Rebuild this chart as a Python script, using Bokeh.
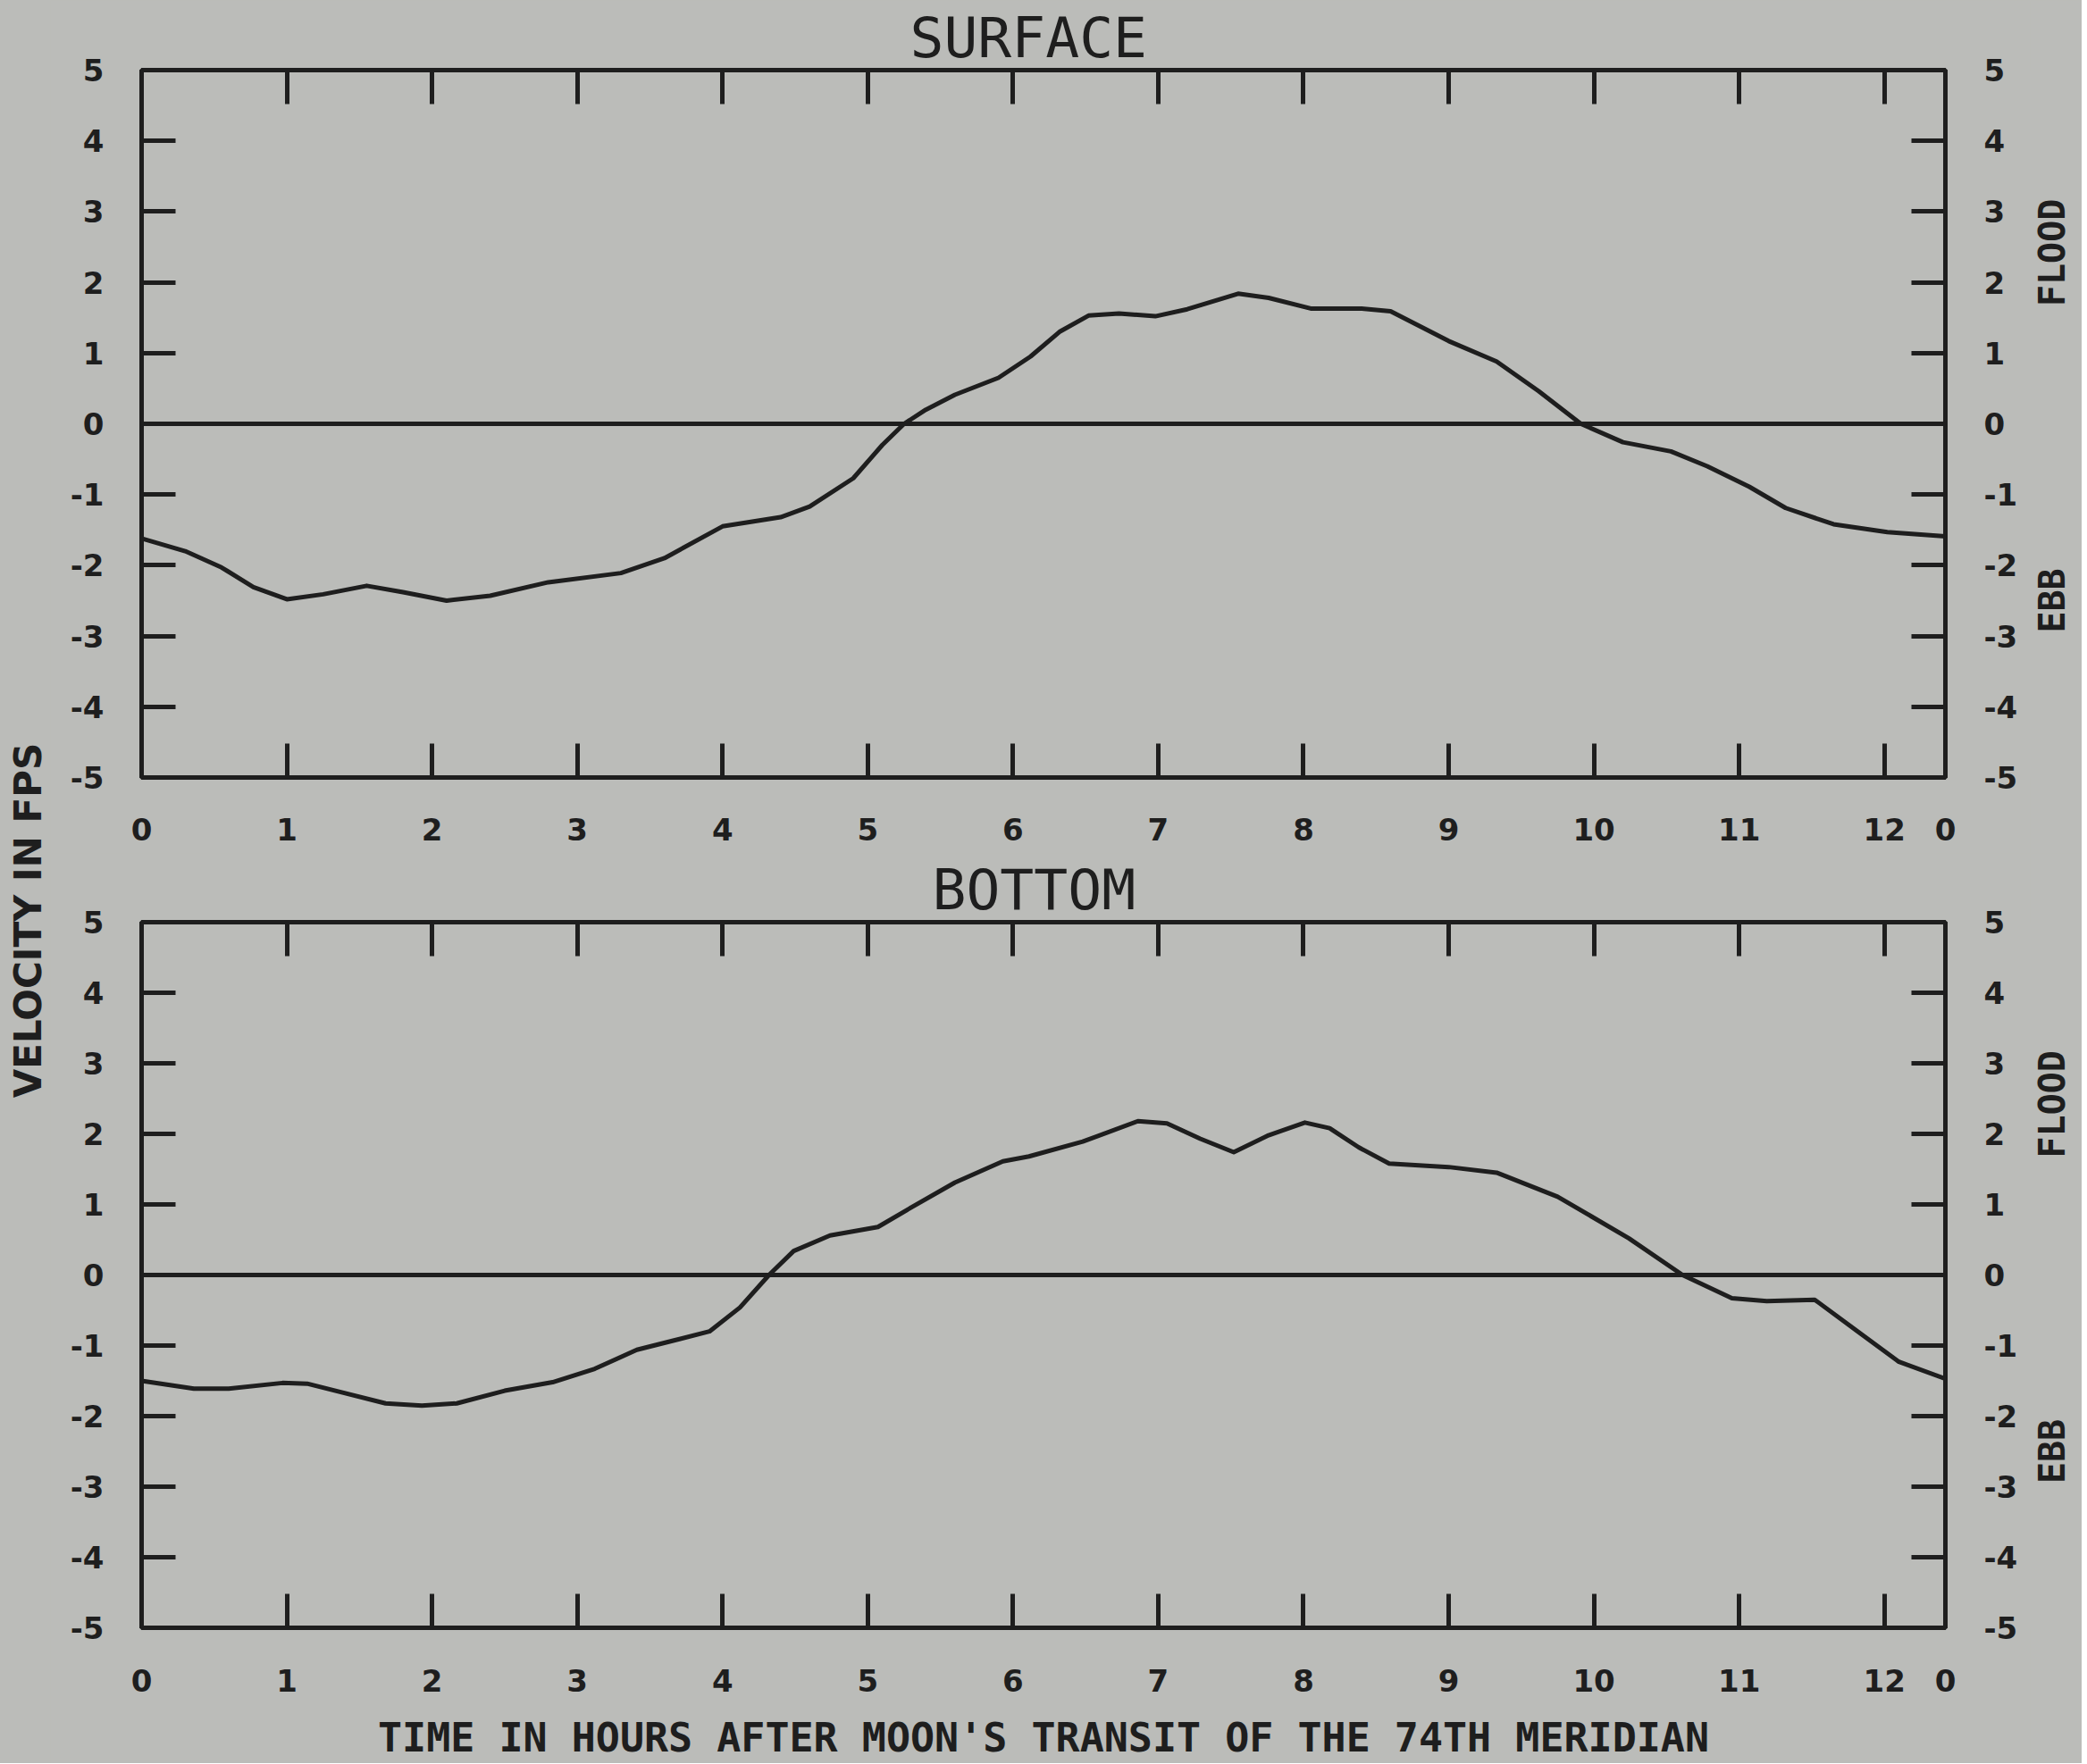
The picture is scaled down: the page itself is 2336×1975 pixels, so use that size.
import math
from bokeh.plotting import figure
from bokeh.models import (Range1d, LinearAxis, FixedTicker, CustomJSTickFormatter,
                          Span, ColumnDataSource)
from bokeh.layouts import row, column
from bokeh.embed import file_html
from bokeh.resources import INLINE
from bokeh.core.properties import value

# ---------------- data ----------------
surface_hours = [0.0, 0.3, 0.55, 0.77, 1.0, 1.25, 1.55, 1.8, 2.1, 2.4, 2.8, 3.3, 3.6,
                 4.0, 4.4, 4.6, 4.9, 5.1, 5.25, 5.4, 5.6, 5.9, 6.12, 6.32, 6.52, 6.73,
                 6.98, 7.2, 7.55, 7.76, 8.05, 8.4, 8.6, 9.0, 9.33, 9.62, 9.91, 10.2,
                 10.53, 10.78, 11.07, 11.32, 11.65, 12.02, 12.42]
surface_velocity = [-1.62, -1.8, -2.03, -2.31, -2.48, -2.41, -2.29, -2.38, -2.5, -2.43,
                    -2.24, -2.11, -1.9, -1.45, -1.32, -1.17, -0.77, -0.3, 0.0, 0.2, 0.41,
                    0.65, 0.95, 1.3, 1.53, 1.56, 1.52, 1.62, 1.84, 1.78, 1.63, 1.63, 1.59,
                    1.17, 0.88, 0.46, 0.0, -0.26, -0.39, -0.6, -0.89, -1.19, -1.42, -1.53,
                    -1.59]

bottom_hours = [0.0, 0.36, 0.6, 0.97, 1.14, 1.39, 1.68, 1.93, 2.17, 2.5, 2.83, 3.12, 3.41,
                3.66, 3.91, 4.12, 4.32, 4.49, 4.74, 5.07, 5.31, 5.6, 5.93, 6.11, 6.48,
                6.86, 7.06, 7.29, 7.52, 7.76, 8.01, 8.18, 8.38, 8.59, 9.0, 9.33, 9.75,
                10.24, 10.61, 10.95, 11.19, 11.52, 11.81, 12.1, 12.42]
bottom_velocity = [-1.5, -1.61, -1.61, -1.53, -1.54, -1.67, -1.82, -1.85, -1.82, -1.64,
                   -1.52, -1.33, -1.06, -0.93, -0.8, -0.46, 0.0, 0.34, 0.56, 0.68, 0.97,
                   1.31, 1.61, 1.68, 1.89, 2.18, 2.15, 1.93, 1.74, 1.98, 2.16, 2.08, 1.81,
                   1.58, 1.53, 1.45, 1.11, 0.52, 0.0, -0.33, -0.37, -0.35, -0.79, -1.23,
                   -1.47]

x_ticks = [0, 1, 2, 3, 4, 5, 6, 7, 8, 9, 10, 11, 12, 12.42]
x_tick_labels = ["0", "1", "2", "3", "4", "5", "6", "7", "8", "9", "10", "11", "12", "0"]
y_ticks = [-5, -4, -3, -2, -1, 0, 1, 2, 3, 4, 5]
y_tick_labels = ["-5", "-4", "-3", "-2", "-1", "0", "1", "2", "3", "4", "5"]
panel_titles = ["SURFACE", "BOTTOM"]
side_labels = ["FLOOD", "EBB"]
side_label_values = [2.42, -2.5]
x_axis_title = "TIME IN HOURS AFTER MOON'S TRANSIT OF THE 74TH MERIDIAN"
y_axis_title = "VELOCITY IN FPS"

# ---------------- styling ----------------
BG = "#bbbcb9"
INK = "#1e1e1e"
X_END = x_ticks[-1]
TICK_FONT = "DejaVu Sans"
TEXT_FONT = "DejaVu Sans Mono"
LW = 5

MAIN_W = 2216       # 102 + 2019 + 95
LEFT_W = 56
RIGHT_W = 58


def style_axis(ax, ticks, labels=None, show_labels=True, standoff=40):
    ax.ticker = FixedTicker(ticks=ticks)
    ax.axis_line_color = INK
    ax.axis_line_width = LW
    ax.major_tick_in = 38
    ax.major_tick_out = 0
    ax.major_tick_line_color = INK
    ax.major_tick_line_width = LW
    ax.minor_tick_line_color = None
    ax.major_label_standoff = standoff
    if labels is not None:
        ax.formatter = CustomJSTickFormatter(args=dict(labels=labels),
                                             code="return labels[index];")
    if show_labels:
        ax.major_label_text_font = TICK_FONT
        ax.major_label_text_font_style = "bold"
        ax.major_label_text_font_size = "34px"
        ax.major_label_text_color = INK
    else:
        ax.major_label_text_font_size = "1px"
        ax.major_label_text_color = None
        ax.major_label_text_alpha = 0
        ax.major_label_standoff = 0


def make_panel(hours, vel, title, title_offset, height, border_top, border_bottom,
               xstandoff, with_xtitle):
    yr = Range1d(-5, 5)
    p = figure(width=MAIN_W, height=height,
               x_range=Range1d(0, X_END), y_range=yr,
               output_backend="svg", toolbar_location=None,
               x_axis_location=None, y_axis_location=None,
               min_border_left=102, min_border_right=95,
               min_border_top=border_top, min_border_bottom=border_bottom,
               background_fill_color=BG, border_fill_color=BG)
    p.grid.visible = False
    p.outline_line_color = INK
    p.outline_line_width = LW

    bottom_ax = LinearAxis()
    style_axis(bottom_ax, x_ticks, labels=x_tick_labels, standoff=xstandoff)
    left_ax = LinearAxis()
    style_axis(left_ax, y_ticks, labels=y_tick_labels, standoff=42)
    top_ax = LinearAxis()
    style_axis(top_ax, x_ticks[1:-1], show_labels=False)
    right_ax = LinearAxis()
    style_axis(right_ax, y_ticks, labels=y_tick_labels, standoff=43)

    if with_xtitle:
        bottom_ax.axis_label = x_axis_title
        bottom_ax.axis_label_text_font = TEXT_FONT
        bottom_ax.axis_label_text_font_style = "bold"
        bottom_ax.axis_label_text_font_size = "45px"
        bottom_ax.axis_label_text_color = INK
        bottom_ax.axis_label_standoff = 22

    p.add_layout(bottom_ax, "below")
    p.add_layout(left_ax, "left")
    p.add_layout(top_ax, "above")
    p.add_layout(right_ax, "right")

    p.title.text = title
    p.title.align = "left"
    p.title.offset = title_offset
    p.title.text_font = TEXT_FONT
    p.title.text_font_style = "normal"
    p.title.text_font_size = "63px"
    p.title.text_color = INK
    p.title.standoff = 0

    p.add_layout(Span(location=0, dimension="width", line_color=INK, line_width=LW))

    src = ColumnDataSource(data=dict(h=hours, v=vel))
    p.line("h", "v", source=src, line_color=INK, line_width=LW, line_join="round")

    # narrow strip on the right holding FLOOD / EBB, sharing the y scale
    s = figure(width=RIGHT_W, height=height, x_range=Range1d(0, 1), y_range=yr,
               output_backend="svg", toolbar_location=None,
               x_axis_location=None, y_axis_location=None,
               min_border_left=0, min_border_right=0,
               min_border_top=border_top, min_border_bottom=border_bottom,
               background_fill_color=BG, border_fill_color=BG)
    s.grid.visible = False
    s.outline_line_color = None
    s.text(x=[24 / RIGHT_W] * 2, y=side_label_values, text=side_labels,
           angle=math.pi / 2, text_font=value(TEXT_FONT), text_font_style="bold",
           text_font_size="40px", text_color=INK,
           text_align="center", text_baseline="middle")
    return row(p, s, styles={"background-color": BG})


TOP_H = 955
BOT_H = 1019
top = make_panel(surface_hours, surface_velocity, panel_titles[0], 860,
                 height=TOP_H, border_top=78, border_bottom=85, xstandoff=45,
                 with_xtitle=False)
bot = make_panel(bottom_hours, bottom_velocity, panel_titles[1], 885,
                 height=BOT_H, border_top=77, border_bottom=152, xstandoff=46,
                 with_xtitle=True)

# narrow strip on the left holding the shared vertical axis title
H = TOP_H + BOT_H
lf = figure(width=LEFT_W, height=H, x_range=Range1d(0, LEFT_W), y_range=Range1d(0, H),
            x_axis_location=None, y_axis_location=None, min_border=0,
            output_backend="svg", toolbar_location=None,
            background_fill_color=BG, border_fill_color=BG)
lf.grid.visible = False
lf.outline_line_color = None
lf.text(x=[31], y=[H - 1030], text=[y_axis_title], angle=math.pi / 2,
        text_font=value(TICK_FONT), text_font_style="bold", text_font_size="42px",
        text_color=INK, text_align="center", text_baseline="middle")

layout = row(lf, column(top, bot, styles={"background-color": BG}),
             styles={"background-color": BG})

open("out.html", "w").write(file_html(layout, INLINE))
